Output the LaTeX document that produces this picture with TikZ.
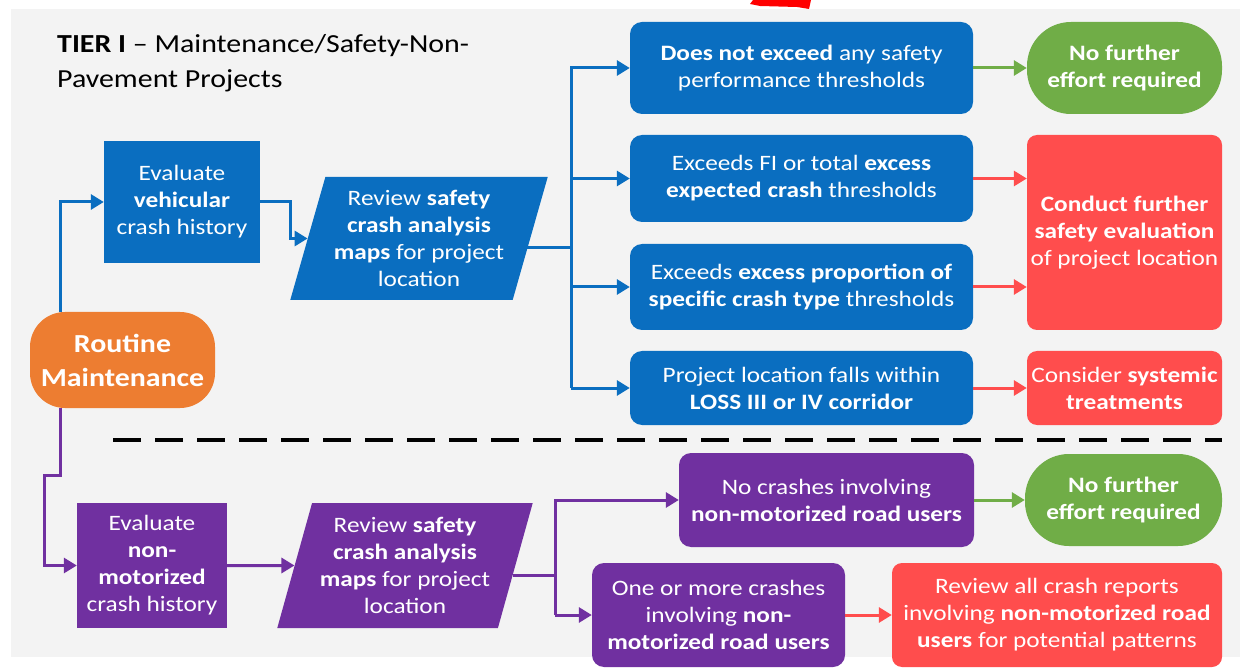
\documentclass[tikz,border=0pt]{standalone}
\usepackage{fontspec}
\setmainfont{Carlito}[FakeStretch=1.15]
\usetikzlibrary{shapes.geometric,arrows.meta}
\definecolor{blueC}{RGB}{10,110,192}
\definecolor{purpleC}{RGB}{112,48,160}
\definecolor{orangeC}{RGB}{237,125,49}
\definecolor{greenC}{RGB}{112,173,71}
\definecolor{redC}{RGB}{255,77,77}
\definecolor{panelC}{RGB}{243,243,243}
\begin{document}
\begin{tikzpicture}[x=1pt,y=-1pt,
  boxtext/.style={text=white, align=center, inner sep=2pt,
    font=\fontsize{22}{27}\selectfont},
  bluebox/.style={boxtext, fill=blueC, rounded corners=12pt},
  purplebox/.style={boxtext, fill=purpleC, rounded corners=12pt},
  redbox/.style={boxtext, fill=redC, rounded corners=10pt},
  greenbox/.style={boxtext, fill=greenC, rounded corners=44pt},
  squarebox/.style={boxtext, rectangle},
  slantbox/.style={boxtext, trapezium, trapezium left angle=72,
    trapezium right angle=108, trapezium stretches=true},
  conn/.style={line width=3pt, -{Triangle[length=13pt,width=15pt]}},
  plainline/.style={line width=3pt},
]
\useasboundingbox (0,0) rectangle (1248,668);
\fill[white] (0,0) rectangle (1248,668);
\fill[panelC] (11,9) rectangle (1240,657);
% red pointer tip entering from above
\fill[red] (750,4) -- (753,0) -- (811,0) -- (809,9) -- (797,7) -- (760,6) -- cycle;

% title
\node[anchor=west, align=left, inner sep=0pt,
  font=\fontsize{26}{35}\selectfont] (title) at (57,63)
  {\textbf{TIER I} -- Maintenance/Safety-Non-\\Pavement Projects};

% start node
\node[boxtext, fill=orangeC, rounded corners=35pt, minimum width=185pt,
  minimum height=96pt, font=\fontsize{26}{34}\selectfont] (rm) at (122.5,360)
  {\textbf{Routine}\\\textbf{Maintenance}};

% vehicular branch
\node[squarebox, fill=blueC, minimum width=156pt, minimum height=122pt] (ev) at (182,202)
  {Evaluate\\\textbf{vehicular}\\crash history};
\node[slantbox, fill=blueC, minimum width=258pt, minimum height=123pt] (rev) at (419,238.5)
  {Review \textbf{safety}\\\textbf{crash analysis}\\\textbf{maps} for project\\location};

\node[bluebox, minimum width=343pt, minimum height=92pt] (b1) at (801.5,68)
  {\textbf{Does not exceed} any safety\\performance thresholds};
\node[bluebox, minimum width=343pt, minimum height=87pt] (b2) at (801.5,178.5)
  {Exceeds FI or total \textbf{excess}\\\textbf{expected crash} thresholds};
\node[bluebox, minimum width=343pt, minimum height=86pt] (b3) at (801.5,287)
  {Exceeds \textbf{excess proportion of}\\\textbf{specific crash type} thresholds};
\node[bluebox, minimum width=343pt, minimum height=74pt] (b4) at (801.5,388)
  {Project location falls within\\\textbf{LOSS III or IV corridor}};

\node[greenbox, minimum width=195pt, minimum height=92pt] (g1) at (1124.5,68)
  {\textbf{No further}\\\textbf{effort required}};
\node[redbox, minimum width=195pt, minimum height=195pt] (r1) at (1124.5,232.5)
  {\textbf{Conduct further}\\\textbf{safety evaluation}\\of project location};
\node[redbox, minimum width=195pt, minimum height=74pt] (r2) at (1124.5,388)
  {Consider \textbf{systemic}\\\textbf{treatments}};

% divider
\draw[line width=4pt, dash pattern=on 28pt off 14pt] (113,440) -- (1222,440);

% non-motorized branch
\node[squarebox, fill=purpleC, minimum width=150pt, minimum height=125pt] (ev2) at (152,565.5)
  {Evaluate\\\textbf{non-}\\\textbf{motorized}\\crash history};
\node[slantbox, fill=purpleC, minimum width=256pt, minimum height=125pt] (rev2) at (405,565.5)
  {Review \textbf{safety}\\\textbf{crash analysis}\\\textbf{maps} for project\\location};

\node[purplebox, minimum width=295pt, minimum height=94pt] (p1) at (826.5,500)
  {No crashes involving\\\textbf{non-motorized road users}};
\node[greenbox, minimum width=197pt, minimum height=92pt] (g2) at (1123.5,500)
  {\textbf{No further}\\\textbf{effort required}};
\node[purplebox, minimum width=253pt, minimum height=104pt] (p2) at (718.5,615)
  {One or more crashes\\involving \textbf{non-}\\\textbf{motorized road users}};
\node[redbox, minimum width=330pt, minimum height=104pt] (r3) at (1057,615)
  {Review all crash reports\\involving \textbf{non-motorized road}\\\textbf{users} for potential patterns};

% routing points
\coordinate (vx) at (60,0);
\coordinate (bx) at (571,0);
\coordinate (px) at (555,0);
\coordinate (out1) at ([shift={(-3,9)}]rev.east);
\coordinate (out2) at ([shift={(-3,10)}]rev2.east);

% connectors, upper part
\draw[conn, blueC] (vx |- rm.north) |- (ev.west);
\draw[conn, blueC] (ev.east) -- ++(30,0) |- (rev.west);
\draw[plainline, blueC] (out1) -- (out1 -| bx);
\draw[conn, blueC] (bx |- b4.west) |- (b1.west);
\draw[conn, blueC] (bx |- b2.west) -- (b2.west);
\draw[conn, blueC] (bx |- b3.west) -- (b3.west);
\draw[conn, blueC] (bx |- b4.west) -- (b4.west);
\draw[conn, greenC] (b1.east) -- (g1.west);
\draw[conn, redC] (b2.east) -- (r1.west |- b2.east);
\draw[conn, redC] (b3.east) -- (r1.west |- b3.east);
\draw[conn, redC] (b4.east) -- (r2.west);

% connectors, lower part
\draw[conn, purpleC] (vx |- rm.south) -- (60,475) -- (44,475) |- (ev2.west);
\draw[conn, purpleC] (ev2.east) -- (rev2.west);
\draw[plainline, purpleC] (out2) -- (out2 -| px);
\draw[conn, purpleC] (px |- p2.west) |- (p1.west);
\draw[conn, purpleC] (px |- p2.west) -- (p2.west);
\draw[conn, greenC] (p1.east) -- (g2.west);
\draw[conn, redC] (p2.east) -- (r3.west);
\end{tikzpicture}
\end{document}
